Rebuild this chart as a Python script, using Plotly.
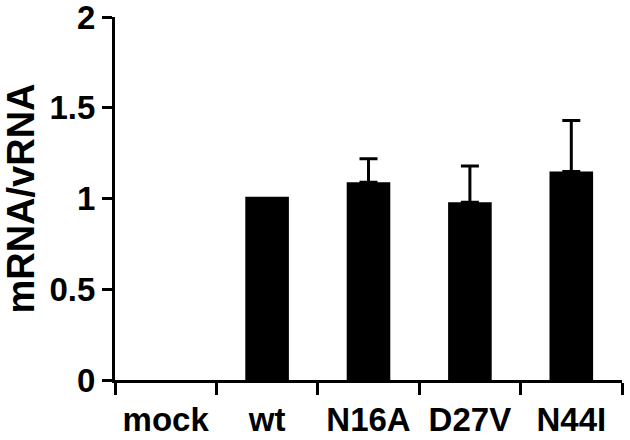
import plotly.graph_objects as go

categories = ["mock", "wt", "N16A", "D27V", "N44I"]
ratio = [0, 1.01, 1.09, 0.98, 1.15]
sem = [None, None, 0.13, 0.20, 0.28]
y_ticks = [0, 0.5, 1, 1.5, 2]
y_tick_text = ["0", "0.5", "1", "1.5", "2"]

font_family = "Liberation Sans, Arial, sans-serif"

bars = go.Bar(
    x=categories,
    y=ratio,
    marker=dict(color="black", line=dict(width=0)),
)

# error bars only where there is a value (upper side only)
err_x = [c for c, s in zip(categories, sem) if s is not None]
err_y = [v for v, s in zip(ratio, sem) if s is not None]
err_v = [s for s in sem if s is not None]
errs = go.Scatter(
    x=err_x,
    y=err_y,
    mode="markers",
    marker=dict(size=1, color="rgba(0,0,0,0)"),
    error_y=dict(
        type="data",
        symmetric=False,
        array=err_v,
        arrayminus=[0] * len(err_v),
        color="black",
        thickness=3,
        width=9,
    ),
    hoverinfo="skip",
)

layout = go.Layout(
    width=630,
    height=440,
    margin=dict(l=115, r=8, t=17, b=60),
    plot_bgcolor="white",
    paper_bgcolor="white",
    showlegend=False,
    bargap=0.57,
    font=dict(family=font_family, color="black", size=33, weight="bold"),
    xaxis=dict(
        type="category",
        tickson="boundaries",
        ticks="outside",
        ticklen=12,
        tickwidth=3,
        tickcolor="black",
        showline=True,
        linewidth=3,
        linecolor="black",
        showgrid=False,
        automargin=False,
        ticklabelstandoff=8,
        tickfont=dict(size=33, weight="bold"),
    ),
    yaxis=dict(
        range=[0, 2.001],
        tickvals=y_ticks,
        ticktext=y_tick_text,
        ticks="outside",
        ticklen=10,
        tickwidth=3,
        tickcolor="black",
        showline=True,
        linewidth=3,
        linecolor="black",
        showgrid=False,
        zeroline=False,
        automargin=False,
        ticklabeloverflow="allow",
        tickfont=dict(size=33, weight="bold"),
        title=dict(text="mRNA/vRNA", font=dict(size=38, weight="bold"), standoff=12),
    ),
)

fig = go.Figure(data=[bars, errs], layout=layout)
# drop the browser's default body margin so the figure sits at the window corner
fig.write_html("out.html", config={"displayModeBar": False},
               post_script="document.body.style.margin='0';")
